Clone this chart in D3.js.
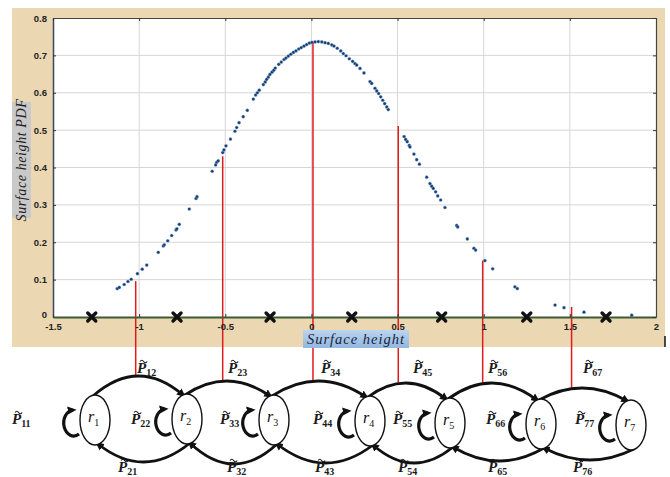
<!DOCTYPE html>
<html>
<head>
<meta charset="utf-8">
<script src="https://cdn.jsdelivr.net/npm/d3@7"></script>
<style>
  body { margin: 0; background: #fff; }
</style>
</head>
<body>
<svg id="chart" width="670" height="477"></svg>
<script>
// Estimated surface-height PDF samples
const pdfX = [-1.127,-1.115,-1.087,-1.065,-1.046,-1.010,-0.982,-0.956,-0.889,-0.860,-0.854,-0.834,-0.811,-0.786,-0.781,-0.767,
  -0.709,-0.670,-0.664,-0.576,-0.556,-0.550,-0.541,-0.515,-0.508,-0.496,-0.470,-0.444,-0.434,-0.420,-0.396,-0.372,
  -0.337,-0.324,-0.314,-0.303,-0.279,-0.268,-0.260,-0.250,-0.241,-0.229,-0.219,-0.210,-0.190,-0.175,-0.159,-0.148,
  -0.134,-0.120,-0.105,-0.090,-0.074,-0.059,-0.043,-0.028,-0.012,0.003,0.021,0.040,0.060,0.079,0.098,0.118,0.131,
  0.150,0.170,0.185,0.201,0.220,0.239,0.253,0.263,0.282,0.305,0.340,0.350,0.369,0.379,0.390,0.402,0.414,0.425,0.437,
  0.446,0.538,0.547,0.556,0.568,0.572,0.595,0.611,0.627,0.669,0.688,0.698,0.707,0.721,0.733,0.750,0.775,0.843,0.849,
  0.905,0.943,0.953,1.007,1.052,1.181,1.195,1.414,1.466,1.582,1.859];
const pdfY = [0.076,0.079,0.087,0.095,0.101,0.116,0.128,0.139,0.173,0.190,0.193,0.204,0.218,0.233,0.236,0.248,
  0.289,0.317,0.322,0.390,0.407,0.414,0.418,0.440,0.447,0.458,0.476,0.497,0.507,0.520,0.536,0.553,
  0.583,0.594,0.600,0.607,0.622,0.629,0.636,0.642,0.649,0.655,0.660,0.666,0.676,0.682,0.689,0.693,
  0.698,0.703,0.708,0.712,0.717,0.721,0.725,0.729,0.733,0.735,0.736,0.737,0.736,0.734,0.732,0.728,0.725,
  0.719,0.712,0.705,0.699,0.691,0.684,0.678,0.674,0.665,0.653,0.630,0.625,0.612,0.605,0.598,0.589,0.580,0.571,0.562,
  0.555,0.483,0.475,0.469,0.459,0.455,0.436,0.421,0.409,0.374,0.357,0.350,0.344,0.335,0.324,0.313,0.293,0.245,0.241,
  0.209,0.184,0.179,0.151,0.129,0.081,0.076,0.032,0.025,0.013,0.005];

// Decision thresholds (crosses on the axis)
const thresholds = [-1.275, -0.78, -0.24, 0.234, 0.756, 1.25, 1.71];

// Transition stems: position on the surface-height axis and PDF value
const stemX = [-1.02, -0.515, 0.009, 0.504, 0.994, 1.51];
const stemY = [0.096, 0.43, 0.736, 0.511, 0.151, 0.027];

// Axis ticks
const xTicks = [-1.5, -1, -0.5, 0, 0.5, 1, 1.5, 2];
const xTickLabels = ["-1.5", "-1", "-0.5", "0", "0.5", "1", "1.5", "2"];
const yTicks = [0, 0.1, 0.2, 0.3, 0.4, 0.5, 0.6, 0.7, 0.8];
const yTickLabels = ["0", "0.1", "0.2", "0.3", "0.4", "0.5", "0.6", "0.7", "0.8"];

// Markov chain states and transition labels
const states = ["1", "2", "3", "4", "5", "6", "7"];
const forwardLabels = ["12", "23", "34", "45", "56", "67"];
const backwardLabels = ["21", "32", "43", "54", "65", "76"];
const selfLabels = ["11", "22", "33", "44", "55", "66", "77"];

const svg = d3.select("#chart");
const defs = svg.append("defs");

const x = d3.scaleLinear().domain([-1.5, 2]).range([53, 656]);
const y = d3.scaleLinear().domain([0, 0.8]).range([317, 18]);

// figure background
svg.append("rect").attr("x", 12).attr("y", 8).attr("width", 653).attr("height", 339).attr("fill", "#ebd8b3");
svg.append("line").attr("x1", 665).attr("x2", 665).attr("y1", 336).attr("y2", 347).attr("stroke", "#111").attr("stroke-width", 1.5);

// plot area
svg.append("rect").attr("x", x(-1.5)).attr("y", y(0.8)).attr("width", x(2) - x(-1.5)).attr("height", y(0) - y(0.8)).attr("fill", "#fff");

// grid
const grid = svg.append("g").attr("stroke", "#d6d6d6").attr("stroke-width", 1);
grid.selectAll(".gy").data(yTicks.slice(1, -1)).join("line")
  .attr("x1", x(-1.5)).attr("x2", x(2)).attr("y1", d => y(d)).attr("y2", d => y(d));
grid.selectAll(".gx").data(xTicks.slice(1, -1)).join("line")
  .attr("x1", d => x(d)).attr("x2", d => x(d)).attr("y1", y(0.8)).attr("y2", y(0));

// ----- state diagram geometry -----
const cxs = [95, 187, 274, 370, 450, 541, 631];
const cys = [420, 419, 420, 421, 423, 424, 425];
const rx = 15, ry = 25;
const topPeaks = [376, 381, 381, 383, 383, 388];
const botPeaks = [462, 464, 463, 463, 461, 460];

function quad(p0, p1, p2) { return `M${p0[0]},${p0[1]} Q${p1[0]},${p1[1]} ${p2[0]},${p2[1]}`; }
function qPoint(p0, p1, p2, t) {
  const u = 1 - t;
  return [u*u*p0[0] + 2*u*t*p1[0] + t*t*p2[0], u*u*p0[1] + 2*u*t*p1[1] + t*t*p2[1]];
}
const topArcs = d3.range(6).map(i => {
  const p0 = [cxs[i] - 2, cys[i] - ry + 1];
  const p2 = [cxs[i+1] - 4, cys[i+1] - ry + 1];
  const ctrlY = 2 * topPeaks[i] - (p0[1] + p2[1]) / 2;
  return [p0, [(p0[0] + p2[0]) / 2, ctrlY], p2];
});
const botArcs = d3.range(6).map(i => {
  const p0 = [cxs[i+1] + 3, cys[i+1] + ry - 1];
  const p2 = [cxs[i] + 3, cys[i] + ry - 1];
  const ctrlY = 2 * botPeaks[i] - (p0[1] + p2[1]) / 2;
  return [p0, [(p0[0] + p2[0]) / 2, ctrlY], p2];
});
// y on a top arc at a given screen x
function arcYAt(arc, px) {
  let lo = 0, hi = 1;
  for (let k = 0; k < 40; k++) {
    const m = (lo + hi) / 2;
    if (qPoint(arc[0], arc[1], arc[2], m)[0] < px) lo = m; else hi = m;
  }
  return qPoint(arc[0], arc[1], arc[2], (lo + hi) / 2)[1];
}

// red stems from the PDF down to the transition arcs
svg.append("g").selectAll("line").data(stemX).join("line")
  .attr("x1", d => x(d)).attr("x2", d => x(d))
  .attr("y1", (d, i) => y(stemY[i]))
  .attr("y2", (d, i) => arcYAt(topArcs[i], x(d)) - 1)
  .attr("stroke", "#e01b1b").attr("stroke-width", 1.5);

// PDF samples
svg.append("g").selectAll("circle").data(pdfX).join("circle")
  .attr("cx", d => x(d)).attr("cy", (d, i) => y(pdfY[i])).attr("r", 1.6)
  .attr("fill", "#173c70").attr("stroke", "#8fb5de").attr("stroke-width", 0.4);

// axes
const tickFont = g => g.selectAll("text").attr("font-family", "'Liberation Sans', Arial, sans-serif")
  .attr("font-weight", "bold").attr("font-size", 9.5).attr("fill", "#222");
const yAxis = svg.append("g").attr("transform", `translate(${x(-1.5)},0)`)
  .call(d3.axisLeft(y).tickValues(yTicks).tickFormat((d, i) => yTickLabels[i]).tickSize(-3).tickSizeOuter(0).tickPadding(6))
  .call(tickFont);
yAxis.select(".domain").attr("stroke", "#3d4466").attr("stroke-width", 1.5);
yAxis.selectAll(".tick line").attr("stroke", "#333");

const xAxis = svg.append("g").attr("transform", `translate(0,${y(0)})`)
  .call(d3.axisBottom(x).tickValues(xTicks).tickFormat((d, i) => xTickLabels[i]).tickSize(-3).tickSizeOuter(0).tickPadding(6))
  .call(tickFont);
xAxis.select(".domain").attr("stroke", "#3b5a35").attr("stroke-width", 2);
xAxis.selectAll(".tick line").attr("stroke", "#333");
yAxis.selectAll(".tick").filter(d => d === 0).select("text").attr("dy", "0.1em");

const topAxis = svg.append("g").attr("transform", `translate(0,${y(0.8)})`)
  .call(d3.axisTop(x).tickValues(xTicks).tickFormat("").tickSize(-3).tickSizeOuter(0));
topAxis.select(".domain").attr("stroke", "#444").attr("stroke-width", 1.2);
topAxis.selectAll(".tick line").attr("stroke", "#333");
const rightAxis = svg.append("g").attr("transform", `translate(${x(2)},0)`)
  .call(d3.axisRight(y).tickValues(yTicks).tickFormat("").tickSize(-3).tickSizeOuter(0));
rightAxis.select(".domain").attr("stroke", "#444").attr("stroke-width", 1.2);
rightAxis.selectAll(".tick line").attr("stroke", "#333");

// threshold crosses
const cr = 4;
svg.append("g").selectAll("path").data(thresholds).join("path")
  .attr("d", d => { const cx = x(d), cy = y(0); return `M${cx-cr},${cy-cr}L${cx+cr},${cy+cr}M${cx-cr},${cy+cr}L${cx+cr},${cy-cr}`; })
  .attr("stroke", "#111").attr("stroke-width", 3.4).attr("stroke-linecap", "round");

// axis titles
const serif = "'Liberation Serif', 'DejaVu Serif', serif";
svg.append("rect").attr("x", 12).attr("y", 102).attr("width", 19).attr("height", 116).attr("fill", "#c9c9c9");
svg.append("text").attr("transform", "translate(26,160) rotate(-90)").attr("text-anchor", "middle")
  .attr("font-family", serif).attr("font-style", "italic").attr("font-size", 14).attr("letter-spacing", 0.6)
  .attr("fill", "#222").text("Surface height  PDF");

const grad = defs.append("linearGradient").attr("id", "xlabGrad").attr("x1", 0).attr("x2", 0).attr("y1", 0).attr("y2", 1);
grad.append("stop").attr("offset", "0%").attr("stop-color", "#bcd4ee");
grad.append("stop").attr("offset", "100%").attr("stop-color", "#93b7de");
svg.append("rect").attr("x", 303).attr("y", 330).attr("width", 106).attr("height", 18).attr("fill", "url(#xlabGrad)");
svg.append("text").attr("x", 356).attr("y", 344).attr("text-anchor", "middle")
  .attr("font-family", serif).attr("font-style", "italic").attr("font-size", 14.5).attr("letter-spacing", 1)
  .attr("fill", "#16233f").text("Surface height");

// ----- state diagram -----
defs.append("marker").attr("id", "arrow").attr("viewBox", "0 -5 10 10").attr("refX", 6).attr("refY", 0)
  .attr("markerUnits", "userSpaceOnUse").attr("markerWidth", 9).attr("markerHeight", 9).attr("orient", "auto")
  .append("path").attr("d", "M0,-4.5L10,0L0,4.5Z").attr("fill", "#111");

const dg = svg.append("g");
dg.selectAll(".top").data(topArcs).join("path")
  .attr("d", a => quad(a[0], a[1], a[2])).attr("fill", "none").attr("stroke", "#111").attr("stroke-width", 2.8)
  .attr("marker-end", "url(#arrow)");
dg.selectAll(".bot").data(botArcs).join("path")
  .attr("d", a => quad(a[0], a[1], a[2])).attr("fill", "none").attr("stroke", "#111").attr("stroke-width", 2.8)
  .attr("marker-end", "url(#arrow)");

// self loops on the left of each state
dg.selectAll(".loop").data(states).join("path")
  .attr("d", (d, i) => {
    const L = cxs[i] - rx, cy = cys[i] + 1;
    return `M${L - 1},${cy + 13} A10 13 0 1 1 ${L - 7},${cy - 11}`;
  })
  .attr("fill", "none").attr("stroke", "#111").attr("stroke-width", 3.2).attr("marker-end", "url(#arrow)");

dg.selectAll("ellipse").data(states).join("ellipse")
  .attr("cx", (d, i) => cxs[i]).attr("cy", (d, i) => cys[i]).attr("rx", rx).attr("ry", ry)
  .attr("fill", "#fff").attr("stroke", "#111").attr("stroke-width", 1.4);

// state names r_i
dg.selectAll(".rlab").data(states).join("text")
  .attr("x", (d, i) => cxs[i] - 7).attr("y", (d, i) => cys[i] + 2)
  .attr("font-family", serif).attr("font-style", "italic").attr("font-size", 16).attr("fill", "#111")
  .each(function(d) {
    const t = d3.select(this);
    t.append("tspan").text("r");
    t.append("tspan").attr("dy", 4).attr("font-size", 10).attr("font-style", "normal").text(d);
  });

// transition-probability labels: P with a tilde accent and index subscript
function pLabel(px, py, sub) {
  const t = dg.append("text").attr("x", px).attr("y", py)
    .attr("font-family", serif).attr("font-style", "italic").attr("font-weight", "bold")
    .attr("font-size", 15).attr("fill", "#1a1a1a");
  t.append("tspan").text("P");
  t.append("tspan").attr("font-size", 10).attr("font-style", "normal").attr("font-weight", "bold").attr("dy", 3).text(sub);
  const tx = px + 3, ty = py - 12.5;
  dg.append("path").attr("d", `M${tx},${ty + 1} q1.8,-2.6 3.6,0 t3.6,0`)
    .attr("fill", "none").attr("stroke", "#1a1a1a").attr("stroke-width", 1.1);
}
const fwdX = [137, 228, 321, 413, 488, 583];
const bwdX = [118, 227, 315, 398, 488, 573];
const selfX = [12, 131, 220, 313, 393, 486, 575];
forwardLabels.forEach((s, i) => pLabel(fwdX[i], 373, s));
backwardLabels.forEach((s, i) => pLabel(bwdX[i], 472, s));
selfLabels.forEach((s, i) => pLabel(selfX[i], 424, s));
</script>
</body>
</html>
